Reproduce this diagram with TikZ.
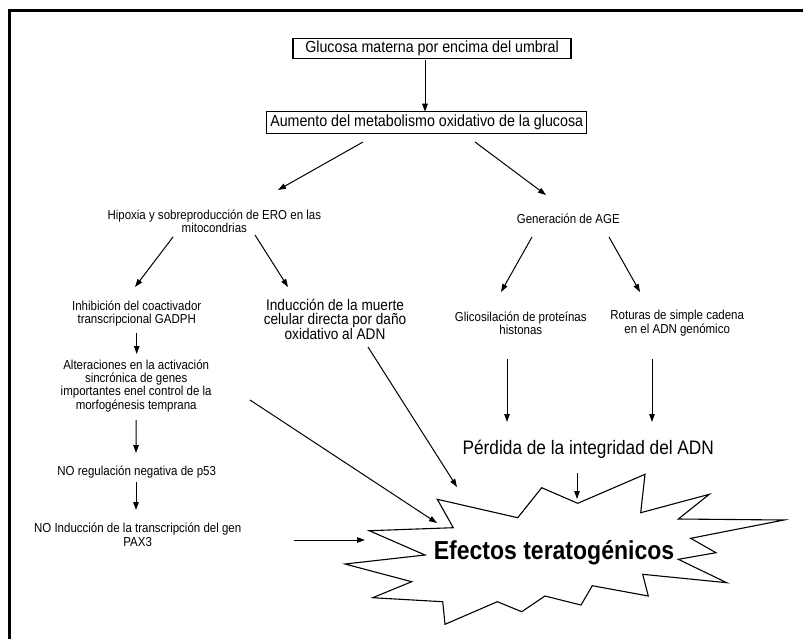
\documentclass[tikz,border=0pt]{standalone}
\usepackage{fontspec}
\setmainfont{Liberation Sans}[FakeStretch=0.885]
\usepackage{tikz}
\usetikzlibrary{arrows.meta, positioning, calc}

\begin{document}
\begin{tikzpicture}[x=1pt, y=-1pt,
  arr/.style={-{Triangle[length=8pt,width=5.5pt]}, line width=1pt},
  box/.style={draw, line width=1.2pt, inner sep=2pt, font=\fontsize{16.1}{16}\selectfont},
  txt/.style={align=center, inner sep=0pt, font=\fontsize{13}{13.4}\selectfont},
  big/.style={align=center, inner sep=0pt, font=\fontsize{15.4}{14.6}\selectfont}]
\useasboundingbox (0,0) rectangle (803,638);
% Frame
\draw[line width=3pt] (9,645) -- (9,10) -- (810,10);
% Top boxes
\node[box, minimum width=278pt, minimum height=20pt] (glucosa) at (432,48.3) {Glucosa materna por encima del umbral};
\node[box, minimum width=320pt, minimum height=21.6pt] (aumento) at (426.7,122.5) {Aumento del metabolismo oxidativo de la glucosa};
% Left branch
\node[txt] (hipoxia) at (214.3,221.5) {Hipoxia y sobreproducción de ERO en las\\mitocondrias};
\node[txt] (inhib) at (136.7,313.5) {Inhibición del coactivador\\transcripcional GADPH};
\node[txt] (alter) at (136.2,385.7) {Alteraciones en la activación\\sincrónica de genes\\importantes enel control de la\\morfogénesis temprana};
\node[txt] (p53) at (136.7,472.3) {NO regulación negativa de p53};
\node[txt] (pax) at (137.7,534.7) {NO Inducción de la transcripción del gen\\PAX3};
\node[big] (muerte) at (335,319.2) {Inducción de la muerte\\celular directa por daño\\oxidativo al ADN};
% Right branch
\node[txt] (age) at (568.3,219) {Generación de AGE};
\node[txt] (glico) at (520.8,323) {Glicosilación de proteínas\\histonas};
\node[txt] (roturas) at (677.2,323) {Roturas de simple cadena\\en el ADN genómico};
\node[align=center, inner sep=0pt, font=\fontsize{19.5}{20}\selectfont] (perdida) at (588.3,449.3) {Pérdida de la integridad del ADN};
% Starburst
\draw[line width=1.1pt, line join=miter] (437.3,499.3) -- (517.7,517.7) -- (541.7,487.7) -- (577.7,503.3)
  -- (645,474.3) -- (640.7,512.7) -- (709.3,494.3) -- (678.3,519) -- (784,520) -- (690.7,538.3)
  -- (716,552.7) -- (678.3,559.3) -- (726.7,582.7) -- (642.7,574.3) -- (648.3,596) -- (592.3,585.7)
  -- (581,605) -- (545,596) -- (521.7,611.7) -- (497.3,601.7) -- (445,624.3) -- (442.7,601.7)
  -- (372.7,597.7) -- (411.7,581.7) -- (345,564) -- (425,555) -- (369.3,530.7) -- (453.3,527.7) -- cycle;
\node[inner sep=0pt, font=\fontsize{26}{26}\selectfont\bfseries] (efectos) at (554,552.7) {Efectos teratogénicos};
% Arrows
\draw[arr] ($(glucosa)+(-7,11.7)$) -- ($(aumento)+(-1.7,-10.8)$);
\draw[arr] ($(aumento)+(-63.7,19.5)$) -- ($(hipoxia)+(63.7,-31.5)$);
\draw[arr] ($(aumento)+(48.3,19.5)$) -- ($(age)+(-22.3,-24)$);
\draw[arr] ($(hipoxia)+(-41.3,15.5)$) -- ($(inhib)+(-1.7,-26.5)$);
\draw[arr] ($(hipoxia)+(40.7,13.5)$) -- ($(muerte)+(-47,-32.2)$);
\draw[arr] ($(inhib)+(0,19.5)$) -- ($(alter)+(0.5,-31.7)$);
\draw[arr] ($(alter)+(0,34.3)$) -- ($(p53)+(-0.7,-19.3)$);
\draw[arr] ($(p53)+(-0.7,9.7)$) -- ($(pax)+(-1.7,-24.7)$);
\draw[arr] ($(pax)+(156.3,5.3)$) -- ($(efectos)+(-189,-12.7)$);
\draw[arr] ($(alter)+(113.8,14.3)$) -- ($(efectos)+(-117,-29.7)$);
\draw[arr] ($(muerte)+(33,27.8)$) -- ($(efectos)+(-97,-65.7)$);
\draw[arr] ($(age)+(-36.3,18)$) -- ($(glico)+(-19.8,-31)$);
\draw[arr] ($(age)+(40.7,18)$) -- ($(roturas)+(-37.2,-31)$);
\draw[arr] ($(glico)+(-13.8,36)$) -- ($(perdida)+(-81.3,-27.3)$);
\draw[arr] ($(roturas)+(-25.2,36)$) -- ($(perdida)+(63.7,-27.3)$);
\draw[arr] ($(perdida)+(-11.3,23.7)$) -- ($(efectos)+(23,-53.7)$);
\end{tikzpicture}
\end{document}
